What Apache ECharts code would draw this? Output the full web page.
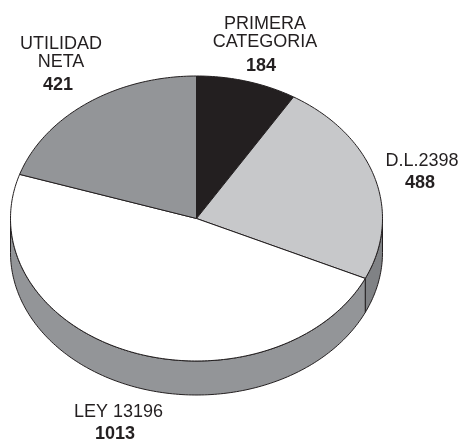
<!DOCTYPE html>
<html>
<head>
<meta charset="utf-8">
<style>
  html, body { margin: 0; padding: 0; background: #fff; }
  #chart { width: 461px; height: 440px; }
</style>
<script src="https://cdn.jsdelivr.net/npm/echarts@6/dist/echarts.min.js"></script>
</head>
<body>
<div id="chart"></div>
<script>
// Chart values
const names = ["PRIMERA\nCATEGORIA", "D.L.2398", "LEY 13196", "UTILIDAD\nNETA"];
const values = [184, 488, 1013, 421];

// Styles, same order as the slices
const topColors = ["#231f20", "#c7c8ca", "#ffffff", "#939598"];
const sideColors = ["#231f20", "#808285", "#939598", "#939598"];
const nameAnchors = [[265, 33], [422, 161], [118.5, 412], [61, 53]];
const valueAnchors = [[261, 66], [420, 183], [115, 434], [58, 85]];

// Tilted pie geometry
const cx = 196.5, cy = 218.5, rx = 186, ry = 142.5, depth = 34;
const lineColor = "#231f20";
const fontFamily = '"Liberation Sans", Arial, sans-serif';

const total = values.reduce((sum, v) => sum + v, 0);

// Angles run clockwise from 12 o'clock
const rimPoint = (deg, dy) => {
  const a = (deg * Math.PI) / 180;
  return [cx + rx * Math.sin(a), cy - ry * Math.cos(a) + (dy || 0)];
};

const arcPoints = (from, to, dy) => {
  const pts = [];
  const steps = Math.max(2, Math.ceil(to - from));
  for (let i = 0; i <= steps; i++) {
    pts.push(rimPoint(from + ((to - from) * i) / steps, dy));
  }
  return pts;
};

const renderSlice = (params, api) => {
  const i = params.dataIndex;
  const value = api.value(0);
  const before = values.slice(0, i).reduce((sum, v) => sum + v, 0);
  const start = (before / total) * 360;
  const end = start + (value / total) * 360;
  const children = [];

  // Side wall, only the part facing the viewer (90 to 270 degrees)
  const wallFrom = Math.max(start, 90);
  const wallTo = Math.min(end, 270);
  if (wallTo > wallFrom) {
    children.push({
      type: "polygon",
      shape: { points: arcPoints(wallFrom, wallTo, 0).concat(arcPoints(wallFrom, wallTo, depth).reverse()) },
      style: { fill: sideColors[i], stroke: lineColor, lineWidth: 1 },
    });
  }

  // Top face
  children.push({
    type: "polygon",
    shape: { points: [[cx, cy]].concat(arcPoints(start, end, 0)) },
    style: { fill: topColors[i], stroke: lineColor, lineWidth: 1 },
  });

  children.push({
    type: "text",
    style: {
      text: names[i],
      x: nameAnchors[i][0],
      y: nameAnchors[i][1],
      align: "center",
      verticalAlign: "middle",
      fontFamily: fontFamily,
      fontSize: 18,
      lineHeight: 18,
      fill: lineColor,
    },
  });
  children.push({
    type: "text",
    style: {
      text: String(value),
      x: valueAnchors[i][0],
      y: valueAnchors[i][1],
      align: "center",
      verticalAlign: "middle",
      fontFamily: fontFamily,
      fontSize: 18,
      fontWeight: "bold",
      fill: lineColor,
    },
  });

  return { type: "group", children: children };
};

const chart = echarts.init(document.getElementById("chart"));
chart.setOption({
  animation: false,
  backgroundColor: "#ffffff",
  series: [
    {
      type: "custom",
      coordinateSystem: "none",
      silent: true,
      renderItem: renderSlice,
      data: values.map((v) => [v]),
    },
  ],
});
</script>
</body>
</html>
